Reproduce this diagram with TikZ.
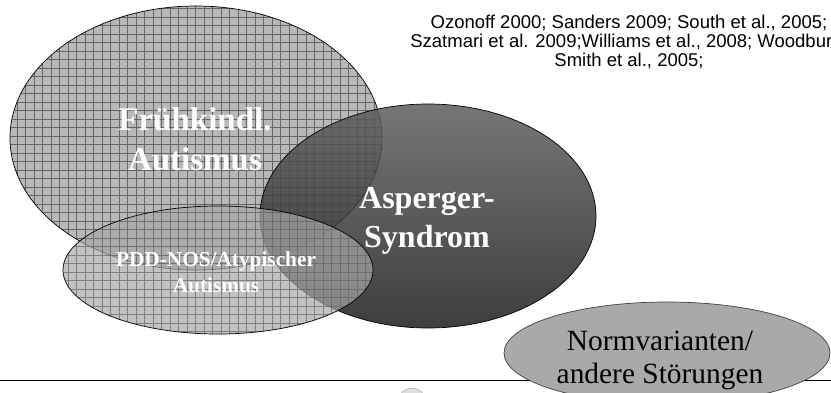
\documentclass[tikz,border=0pt]{standalone}
\usepackage{fontspec}
\setmainfont{Liberation Serif}
\setsansfont{Liberation Sans}
\usetikzlibrary{positioning}
\definecolor{gridfill}{HTML}{B8B8B8}
\definecolor{gridline}{HTML}{646464}
\definecolor{aspTop}{HTML}{5E5E5E}
\definecolor{aspBot}{HTML}{1C1C1C}
\definecolor{pddfill}{HTML}{A8A8A8}
\definecolor{normfill}{HTML}{A9A9A9}

\begin{document}
\begin{tikzpicture}[x=1pt, y=-1pt,
  outline/.style={draw=black, line width=0.7pt},
  gridlines/.style={draw=gridline, line width=0.5pt},
  lbl/.style={text=white, align=center, anchor=base, inner sep=0pt}]
  \useasboundingbox (0,0) rectangle (831,392);
  \clip (0,0) rectangle (831,392);

  % Fruehkindlicher Autismus
  \begin{scope}
    \clip (196,138) ellipse [x radius=186, y radius=132];
    \fill[gridfill] (0,0) rectangle (831,392);
    \draw[gridlines, step=8.5pt] (0,0) grid (831,392);
  \end{scope}
  \draw[outline] (196,138) ellipse [x radius=186, y radius=132];

  % Asperger-Syndrom
  \shade[top color=aspTop, bottom color=aspBot, fill opacity=0.85]
    (428,216) ellipse [x radius=168, y radius=112];
  \draw[outline] (428,216) ellipse [x radius=168, y radius=112];

  % PDD-NOS
  \begin{scope}
    \clip (218,270) ellipse [x radius=155, y radius=64];
    \fill[pddfill, fill opacity=0.7] (0,0) rectangle (831,392);
    \draw[gridlines, step=8.5pt, draw opacity=0.7] (0,0) grid (831,392);
  \end{scope}
  \draw[outline] (218,270) ellipse [x radius=155, y radius=64];

  % Fusszeile
  \filldraw[fill=gray!25, draw=gray!70, line width=0.5pt] (412,402) circle [radius=14];
  \draw[line width=0.9pt] (0,380) -- (831,380);

  % Normvarianten
  \filldraw[fill=normfill, draw=black!75, line width=0.7pt]
    (667,353) ellipse [x radius=163, y radius=51];

  % Beschriftungen (Anker: Grundlinie der letzten Zeile)
  \node[lbl, font=\bfseries\fontsize{33}{40}\selectfont] (fruehtxt) at (195,170)
    {Frühkindl.\\Autismus};
  \node[lbl, font=\bfseries\fontsize{32}{39}\selectfont] (aspergertxt) at (427,247)
    {Asperger-\\Syndrom};
  \node[lbl, font=\bfseries\fontsize{21.3}{26}\selectfont] (pddtxt) at (216,292)
    {PDD-NOS/Atypischer\\Autismus};
  \node[lbl, text=black, font=\fontsize{29.4}{33}\selectfont] (normtxt) at (660,383)
    {Normvarianten/\\andere Störungen};
  \node[lbl, text=black, font=\sffamily\fontsize{18.5}{19}\selectfont] (reftxt) at (629,66)
    {Ozonoff 2000; Sanders 2009; South et al., 2005;\\
     Szatmari et al. 2009;Williams et al., 2008; Woodbury-\\
     Smith et al., 2005;};
\end{tikzpicture}
\end{document}
